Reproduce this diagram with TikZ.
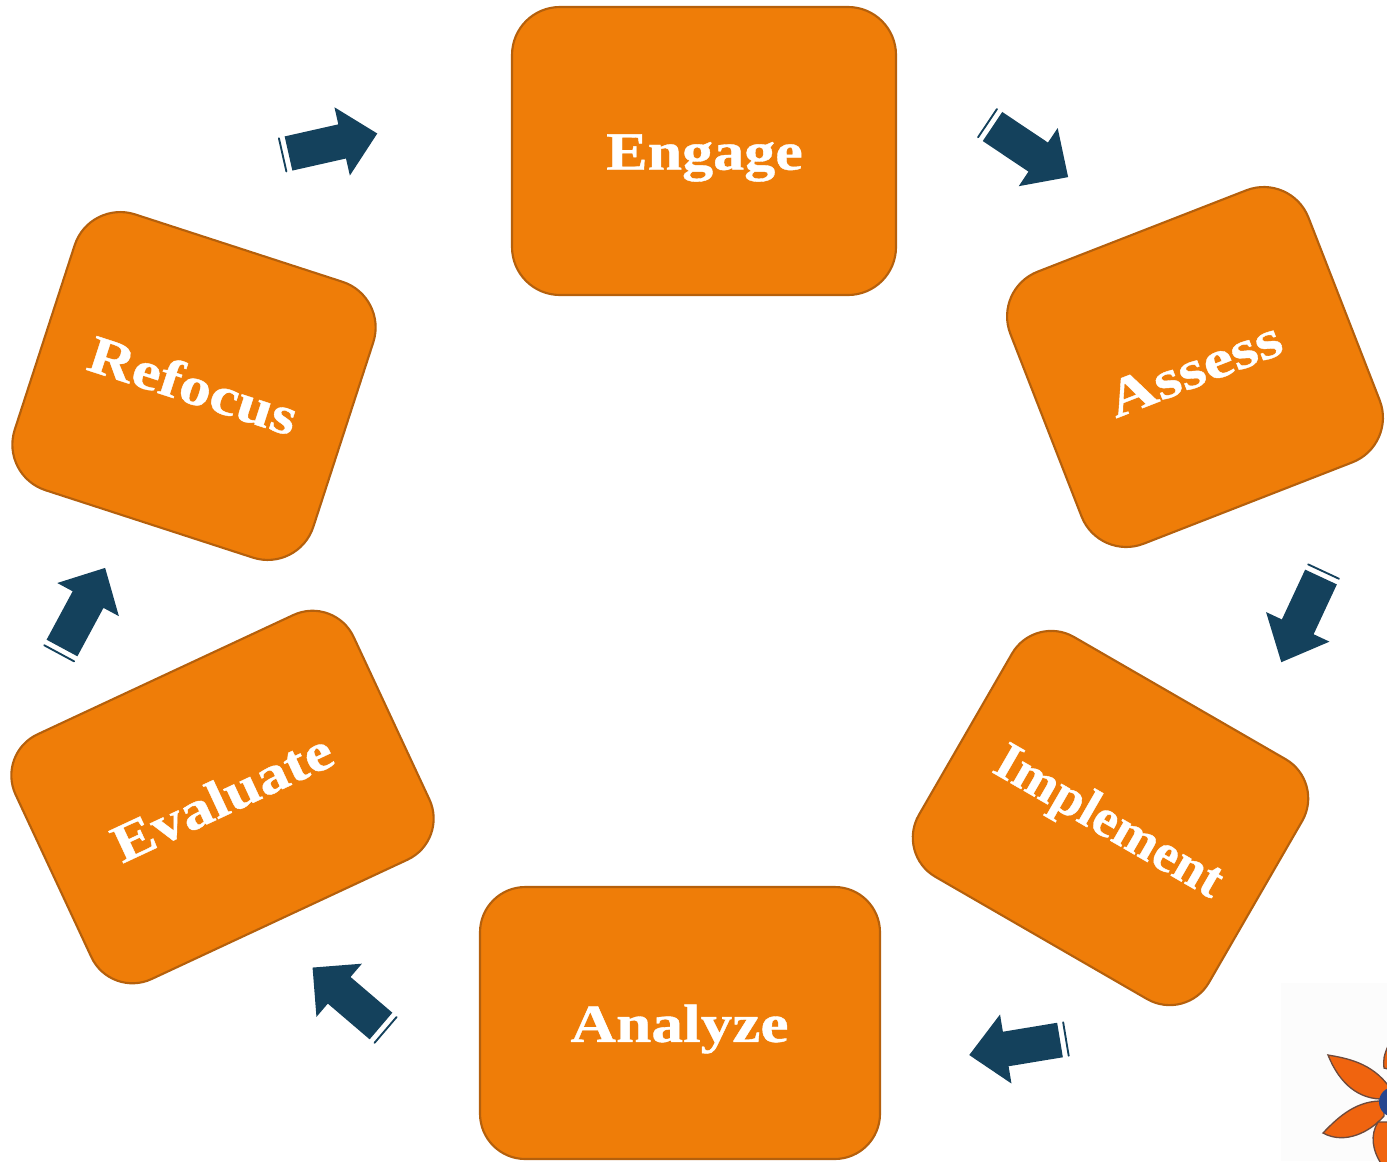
\documentclass[tikz,border=0pt]{standalone}
\usepackage{fontspec}
\usepackage{graphicx}
\setmainfont[FakeStretch=1.15,BoldFeatures={FakeBold=0.7}]{Liberation Serif}
\definecolor{boxfill}{HTML}{EF7D08}
\definecolor{boxline}{HTML}{B5600C}
\definecolor{arrowblue}{HTML}{14415C}
\definecolor{petal}{HTML}{F0640F}
\definecolor{petalline}{HTML}{6E4A3C}
\definecolor{disc}{HTML}{27468F}
\tikzset{
  cyclebox/.style={draw=boxline,fill=boxfill,line width=1.6pt,rectangle,inner sep=0pt},
  cyclelabel/.style={text=white,font=\bfseries\fontsize{40.5}{44}\selectfont,inner sep=0pt},
  blockfill/.style={fill=arrowblue,draw=none},
  tailline/.style={draw=arrowblue,line width=1.4pt,line cap=round},
  petalshape/.style={fill=petal,draw=petalline,line width=1pt}
}
\newcommand{\blockarrow}[4]{%
  \begin{scope}[shift={(#1,#2)},rotate=#3]
    \path[blockfill] (0,-17.5)--(55,-17.5)--(55,-35)--(#4,0)--(55,35)--(55,17.5)--(0,17.5)--cycle;
    \draw[tailline] (-6,-17)--(-6,17);
  \end{scope}}
\begin{document}
\begin{tikzpicture}[x=0.75pt,y=-0.75pt]
\useasboundingbox (0,0) rectangle (1387,1161);
% flower picture in the corner
\begin{scope}
  \clip (0,0) rectangle (1387,1161);
  \fill[black!1] (1281,983) rectangle (1387,1161);
  \path[petalshape] (1384,1068) .. controls (1383,1060) and (1384,1055) .. (1388,1046) -- (1392,1070) -- cycle;
  \path[petalshape] (1328,1055) .. controls (1345,1058) and (1372,1062) .. (1390,1088) -- (1385,1099) .. controls (1360,1100) and (1340,1085) .. (1328,1055) -- cycle;
  \path[petalshape] (1323,1133) .. controls (1340,1115) and (1358,1100) .. (1384,1101) -- (1384,1116) .. controls (1370,1132) and (1345,1145) .. (1323,1133) -- cycle;
  \path[petalshape] (1378,1122) .. controls (1370,1135) and (1372,1150) .. (1382,1165) -- (1392,1165) -- (1392,1122) -- cycle;
  \fill[disc] (1394,1102) circle[radius=15];
\end{scope}
% boxes
\node[cyclebox,minimum width=384*0.75pt,minimum height=288*0.75pt,rounded corners=36pt] (engage) at (704,151) {};
\node[cyclebox,minimum width=320*0.75pt,minimum height=292*0.75pt,rounded corners=36pt,rotate=21.3] (assess) at (1195,367) {};
\node[cyclebox,minimum width=335*0.75pt,minimum height=277*0.75pt,rounded corners=34pt,rotate=-30] (implement) at (1110.5,818) {};
\node[cyclebox,minimum width=400*0.75pt,minimum height=272*0.75pt,rounded corners=34pt] (analyze) at (680,1023) {};
\node[cyclebox,minimum width=373*0.75pt,minimum height=270*0.75pt,rounded corners=34pt,rotate=25] (evaluate) at (222.5,797) {};
\node[cyclebox,minimum width=314*0.75pt,minimum height=290*0.75pt,rounded corners=36pt,rotate=-18] (refocus) at (194,386) {};
% labels
\node[cyclelabel] (engageT) at (704.5,158) {Engage};
\node[cyclelabel,rotate=21.3] (assessT) at (1194.5,369) {\scalebox{1.08}[1]{Assess}};
\node[cyclelabel,rotate=-30] (implementT) at (1107.5,824) {\scalebox{0.88}[1]{Implement}};
\node[cyclelabel] (analyzeT) at (679.5,1029) {\scalebox{1.02}[1]{Analyze}};
\node[cyclelabel,rotate=25] (evaluateT) at (222,797) {\scalebox{1.01}[1]{Evaluate}};
\node[cyclelabel,rotate=-18] (refocusT) at (193.5,385) {\scalebox{1.03}[1]{Refocus}};
% arrows
\blockarrow{992.5}{126.5}{-33.8}{91}
\blockarrow{1321}{577}{-115}{94}
\blockarrow{1060}{1040}{-170.6}{92}
\blockarrow{381}{1026}{-220.5}{90}
\blockarrow{62}{648}{61.7}{91}
\blockarrow{288.5}{153.5}{12.7}{91}
\end{tikzpicture}
\end{document}
